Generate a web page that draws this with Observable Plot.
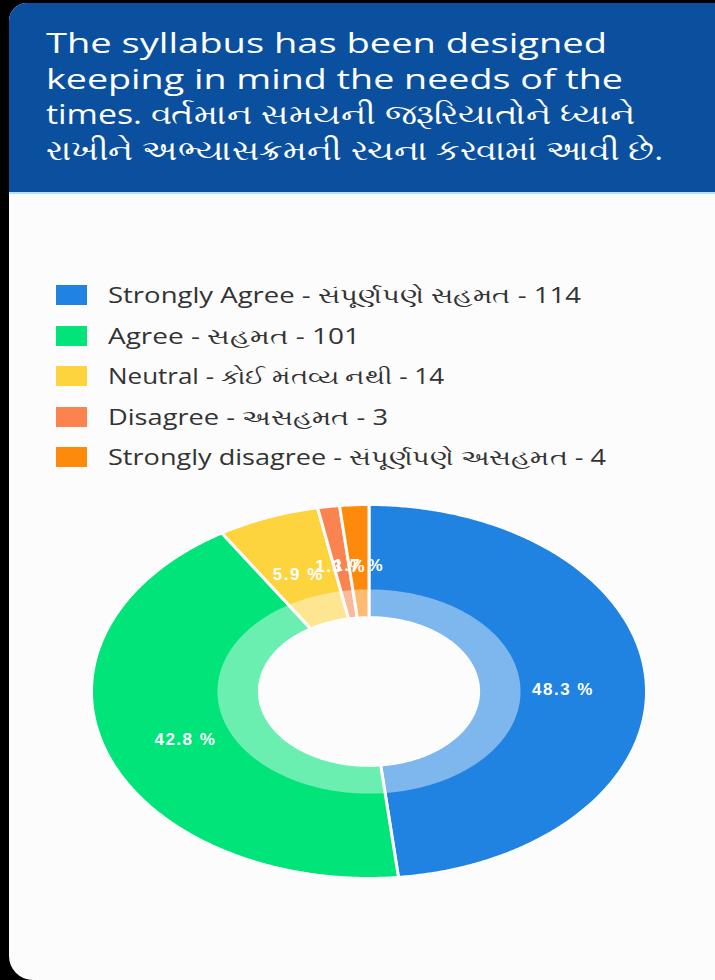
<!DOCTYPE html>
<html>
<head>
<meta charset="utf-8">
<script src="https://cdn.jsdelivr.net/npm/d3@7"></script>
<script src="https://cdn.jsdelivr.net/npm/@observablehq/plot@0.6"></script>
<style>
  html, body { margin: 0; padding: 0; background: #000; width: 715px; height: 980px; overflow: hidden; }
  #card { position: absolute; left: 9px; top: 3px; width: 706px; height: 977px; background: #fcfcfc;
          border-radius: 18px 0 0 24px; overflow: hidden; }
  #header { position: absolute; left: 0; top: 0; width: 706px; height: 189px; background: #0b4f9f;
            border-bottom: 2px solid #b5e3f3; }
  #title { position: absolute; left: 37px; top: 22px; color: #fff; font-family: "Open Sans", "Noto Sans", sans-serif;
           font-size: 28px; line-height: 35.5px; }
  .tl { display: block; width: max-content; white-space: nowrap; transform-origin: left center; }
  #legend { position: absolute; left: 47px; top: 272px; }
  .row { display: flex; align-items: center; height: 40.5px; }
  .sw { width: 31px; height: 20px; margin-right: 21px; flex: none; }
  .lab { font-family: "Open Sans", "Noto Sans", sans-serif; font-size: 21px; color: #333; white-space: nowrap;
         width: max-content; transform-origin: left center; }
  #chart { position: absolute; left: 0; top: 477px; }
  #chart text { letter-spacing: 1.5px; }
</style>
</head>
<body>
<div id="card">
  <div id="header"><div id="title"></div></div>
  <div id="legend"></div>
</div>
<div id="chart"></div>
<script>
// ---- data ----
const titleLines = [
  "The syllabus has been designed",
  "keeping in mind the needs of the",
  "times. વર્તમાન સમયની જરૂરિયાતોને ધ્યાને",
  "રાખીને અભ્યાસક્રમની રચના કરવામાં આવી છે."
];
const categories = ["Strongly Agree", "Agree", "Neutral", "Disagree", "Strongly disagree"];
const gujaratiLabels = ["સંપૂર્ણપણે સહમત", "સહમત", "કોઈ મંતવ્ય નથી", "અસહમત", "સંપૂર્ણપણે અસહમત"];
const counts = [114, 101, 14, 3, 4];
const colors = ["#2083e2", "#00e479", "#fdd33e", "#fb8350", "#fe8a0b"];

// ---- layout (rendered text widths in the reference, px) ----
const titleLineWidths = [561, 577, 589, 617];
const legendTextWidths = [473, 252, 336, 280, 498];

// ---- title & legend ----
const title = document.getElementById("title");
const titleEls = titleLines.map(t => {
  const d = document.createElement("div");
  d.className = "tl"; d.textContent = t; title.appendChild(d); return d;
});
const legend = document.getElementById("legend");
const labEls = categories.map((c, i) => {
  const row = document.createElement("div");
  row.className = "row";
  row.innerHTML = `<div class="sw" style="background:${colors[i]}"></div><div class="lab">${c} - ${gujaratiLabels[i]} - ${counts[i]}</div>`;
  legend.appendChild(row);
  return row.querySelector(".lab");
});
function fit(els, widths) {
  els.forEach((el, i) => {
    const w = el.getBoundingClientRect().width;
    if (w > 0) el.style.transform = `scaleX(${widths[i] / w})`;
  });
}
fit(titleEls, titleLineWidths);
fit(labEls, legendTextWidths);

// ---- donut geometry from data ----
const total = d3.sum(counts);
const cum = d3.cumsum(counts);
const slices = categories.map((c, i) => ({
  key: c, color: colors[i], value: counts[i],
  a0: ((cum[i] - counts[i]) / total) * 2 * Math.PI,
  a1: (cum[i] / total) * 2 * Math.PI
}));
const rHole = 0.395, rMid = 0.546, rOuter = 1, rLabel = 0.7;
function ring(r0, r1, tag) {
  const pts = [];
  for (const s of slices) {
    const n = Math.max(2, Math.ceil((s.a1 - s.a0) / (Math.PI / 360)));
    for (let k = 0; k <= n; k++) {
      const a = s.a0 + (s.a1 - s.a0) * k / n;
      pts.push({key: s.key + tag, color: s.color, x: r1 * Math.sin(a), y: r1 * Math.cos(a)});
    }
    for (let k = n; k >= 0; k--) {
      const a = s.a0 + (s.a1 - s.a0) * k / n;
      pts.push({key: s.key + tag, color: s.color, x: r0 * Math.sin(a), y: r0 * Math.cos(a)});
    }
  }
  return pts;
}
const fullRing = ring(rHole, rOuter, "-full");
const innerRing = ring(rHole, rMid, "-inner");
const labels = slices.map(s => {
  const a = (s.a0 + s.a1) / 2;
  return {x: rLabel * Math.sin(a), y: rLabel * Math.cos(a), text: (s.value / total * 100).toFixed(1) + " %"};
});

const chart = Plot.plot({
  width: 715, height: 420,
  marginLeft: 91, marginRight: 69, marginTop: 27, marginBottom: 19,
  x: {domain: [-1, 1], axis: null},
  y: {domain: [-1, 1], axis: null},
  style: {background: "transparent", overflow: "visible"},
  marks: [
    Plot.line(fullRing, {x: "x", y: "y", z: "key", fill: "color", stroke: "#fcfcfc", strokeWidth: 3, curve: "linear-closed"}),
    Plot.line(innerRing, {x: "x", y: "y", z: "key", fill: "#ffffff", fillOpacity: 0.42, stroke: "none", curve: "linear-closed"}),
    Plot.text(labels, {x: "x", y: "y", dy: 5, text: "text", fill: "white", fontSize: 17, fontWeight: "bold",
                       fontFamily: "Liberation Sans, Arial, sans-serif"})
  ]
});
document.getElementById("chart").appendChild(chart);
</script>
</body>
</html>
